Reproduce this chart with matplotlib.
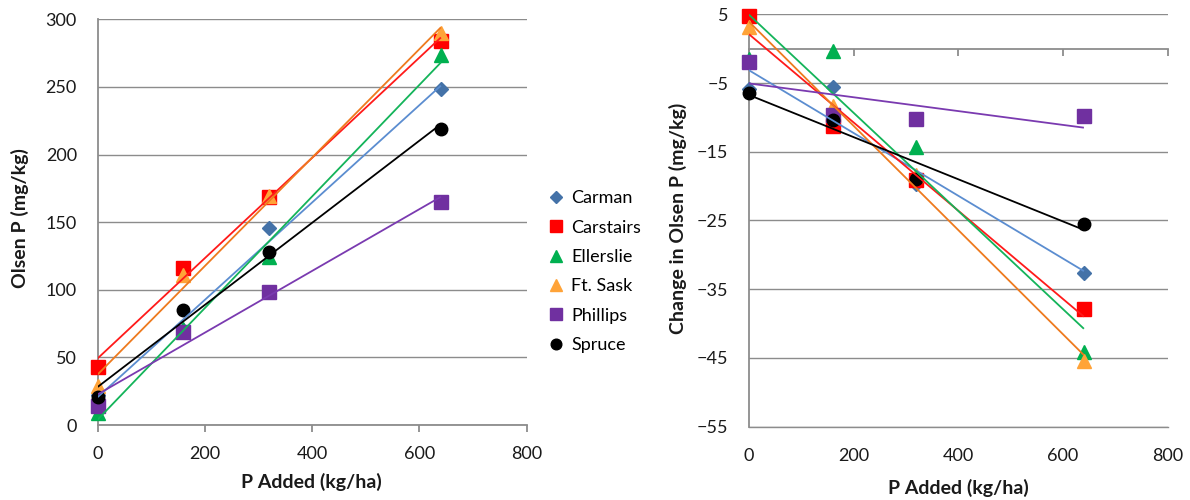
import numpy as np
import matplotlib
matplotlib.use('Agg')
import matplotlib.pyplot as plt
from matplotlib.lines import Line2D

plt.rcParams['font.family'] = ['Lato', 'DejaVu Sans']

# ---------------- data ----------------
p_added = [0, 160, 320, 640]
sites = ['Carman', 'Carstairs', 'Ellerslie', 'Ft. Sask', 'Phillips', 'Spruce']

olsen_carman = [22, 70, 145.4, 248.2]
olsen_carstairs = [43.1, 116.3, 168.8, 284.2]
olsen_ellerslie = [9.1, 71, 124.5, 273.6]
olsen_ftsask = [28.8, 110.7, 169.3, 290]
olsen_phillips = [14, 69, 98.3, 165]
olsen_spruce = [20.5, 85, 128.2, 218.9]

change_carman = [-5.8, -5.6, -19.7, -32.6]
change_carstairs = [4.7, -11.2, -19.1, -37.9]
change_ellerslie = [-1.5, -0.3, -14.3, -44.1]
change_ftsask = [3.1, -8.4, -18.4, -45.5]
change_phillips = [-1.9, -9.6, -10.2, -9.8]
change_spruce = [-6.5, -10.4, -18.9, -25.5]

left_xticks = [0, 200, 400, 600, 800]
left_yticks = [0, 50, 100, 150, 200, 250, 300]
right_yticks = [5, -5, -15, -25, -35, -45, -55]

olsen = [olsen_carman, olsen_carstairs, olsen_ellerslie, olsen_ftsask, olsen_phillips, olsen_spruce]
change = [change_carman, change_carstairs, change_ellerslie, change_ftsask, change_phillips, change_spruce]

marker_colors = ['#4472A8', '#FF0000', '#00B050', '#FFA338', '#7030A0', '#000000']
line_colors = ['#5B8DD0', '#FF1A1A', '#14B45A', '#EE7A1E', '#7A3AB0', '#000000']
markers = ['D', 's', '^', '^', 's', 'o']
msizes = [7.5, 9.5, 9.5, 9.5, 9.5, 9]

GRID = '#8C8C8C'
FS = 13

fig = plt.figure(figsize=(11.9, 5), dpi=100)
axL = fig.add_axes([0.0821, 0.15, 0.3605, 0.8114])
axR = fig.add_axes([0.6294, 0.1466, 0.3518, 0.8248])

x = np.array(p_added, dtype=float)
xfit = np.array([0, 640], dtype=float)


def draw(ax, data):
    for i, ys in enumerate(data):
        ys = np.array(ys, dtype=float)
        ax.plot(x, ys, linestyle='none', marker=markers[i], ms=msizes[i],
                color=marker_colors[i], mec=marker_colors[i], zorder=3 + i * 0.01,
                clip_on=False)
    for i, ys in enumerate(data):
        k, b = np.polyfit(x, np.array(ys, dtype=float), 1)
        ax.plot(xfit, k * xfit + b, color=line_colors[i], lw=1.3, zorder=4,
                solid_capstyle='butt')


# ---------------- left ----------------
draw(axL, olsen)
axL.set_xlim(0, 800)
axL.set_ylim(0, 300)
axL.set_xticks(left_xticks)
axL.set_yticks(left_yticks)
axL.yaxis.grid(True, color=GRID, lw=1.0)
axL.set_axisbelow(True)
for s in ['top', 'right']:
    axL.spines[s].set_visible(False)
for s in ['left', 'bottom']:
    axL.spines[s].set_color(GRID)
    axL.spines[s].set_linewidth(1.3)
axL.tick_params(axis='x', direction='out', length=5, width=1.3, color=GRID,
                pad=10, labelsize=FS, labelcolor='#1a1a1a')
axL.tick_params(axis='y', length=0, pad=15, labelsize=FS, labelcolor='#1a1a1a')

# ---------------- right ----------------
draw(axR, change)
axR.set_xlim(0, 800)
axR.set_ylim(-55, 5)
axR.set_xticks(left_xticks)
axR.set_yticks(right_yticks)
axR.yaxis.grid(True, color=GRID, lw=1.0)
axR.set_axisbelow(True)
for s in ['top', 'right']:
    axR.spines[s].set_visible(False)
axR.spines['bottom'].set_color(GRID)
axR.spines['bottom'].set_linewidth(1.0)
axR.spines['left'].set_color(GRID)
axR.spines['left'].set_linewidth(1.3)
axR.tick_params(axis='x', length=0, pad=15, labelsize=FS, labelcolor='#1a1a1a')
axR.tick_params(axis='y', length=0, pad=15, labelsize=FS, labelcolor='#1a1a1a')
sec = axR.secondary_xaxis(55 / 60)
sec.set_xticks(left_xticks)
sec.tick_params(axis='x', which='both', direction='in', length=5, width=1.3, color=GRID,
                labelbottom=False, labeltop=False, top=True, bottom=False)
for s in ['bottom', 'top']:
    sec.spines[s].set_color(GRID)
    sec.spines[s].set_linewidth(1.3)

# ---------------- labels ----------------
LFS = 14
fig.text(0.262, 0.037, 'P Added (kg/ha)', ha='center', va='center',
         fontsize=LFS, fontweight='bold', color='#1a1a1a')
fig.text(0.805, 0.025, 'P Added (kg/ha)', ha='center', va='center',
         fontsize=LFS, fontweight='bold', color='#1a1a1a')
fig.text(0.017, 0.564, 'Olsen P (mg/kg)', ha='center', va='center', rotation=90,
         fontsize=LFS, fontweight='bold', color='#1a1a1a')
fig.text(0.5695, 0.564, 'Change in Olsen P (mg/kg)', ha='center', va='center',
         rotation=90, fontsize=LFS, fontweight='bold', color='#1a1a1a')

# ---------------- legend ----------------
handles = [Line2D([], [], linestyle='none', marker=markers[i], ms=msizes[i] * 0.85,
                  color=marker_colors[i]) for i in range(len(sites))]
fig.legend(handles, sites, loc='upper left', bbox_to_anchor=(0.455, 0.634),
           frameon=False, fontsize=FS, handlelength=0.8, handletextpad=0.45,
           labelspacing=0.74, borderaxespad=0)

fig.savefig('out.png', dpi=100)
